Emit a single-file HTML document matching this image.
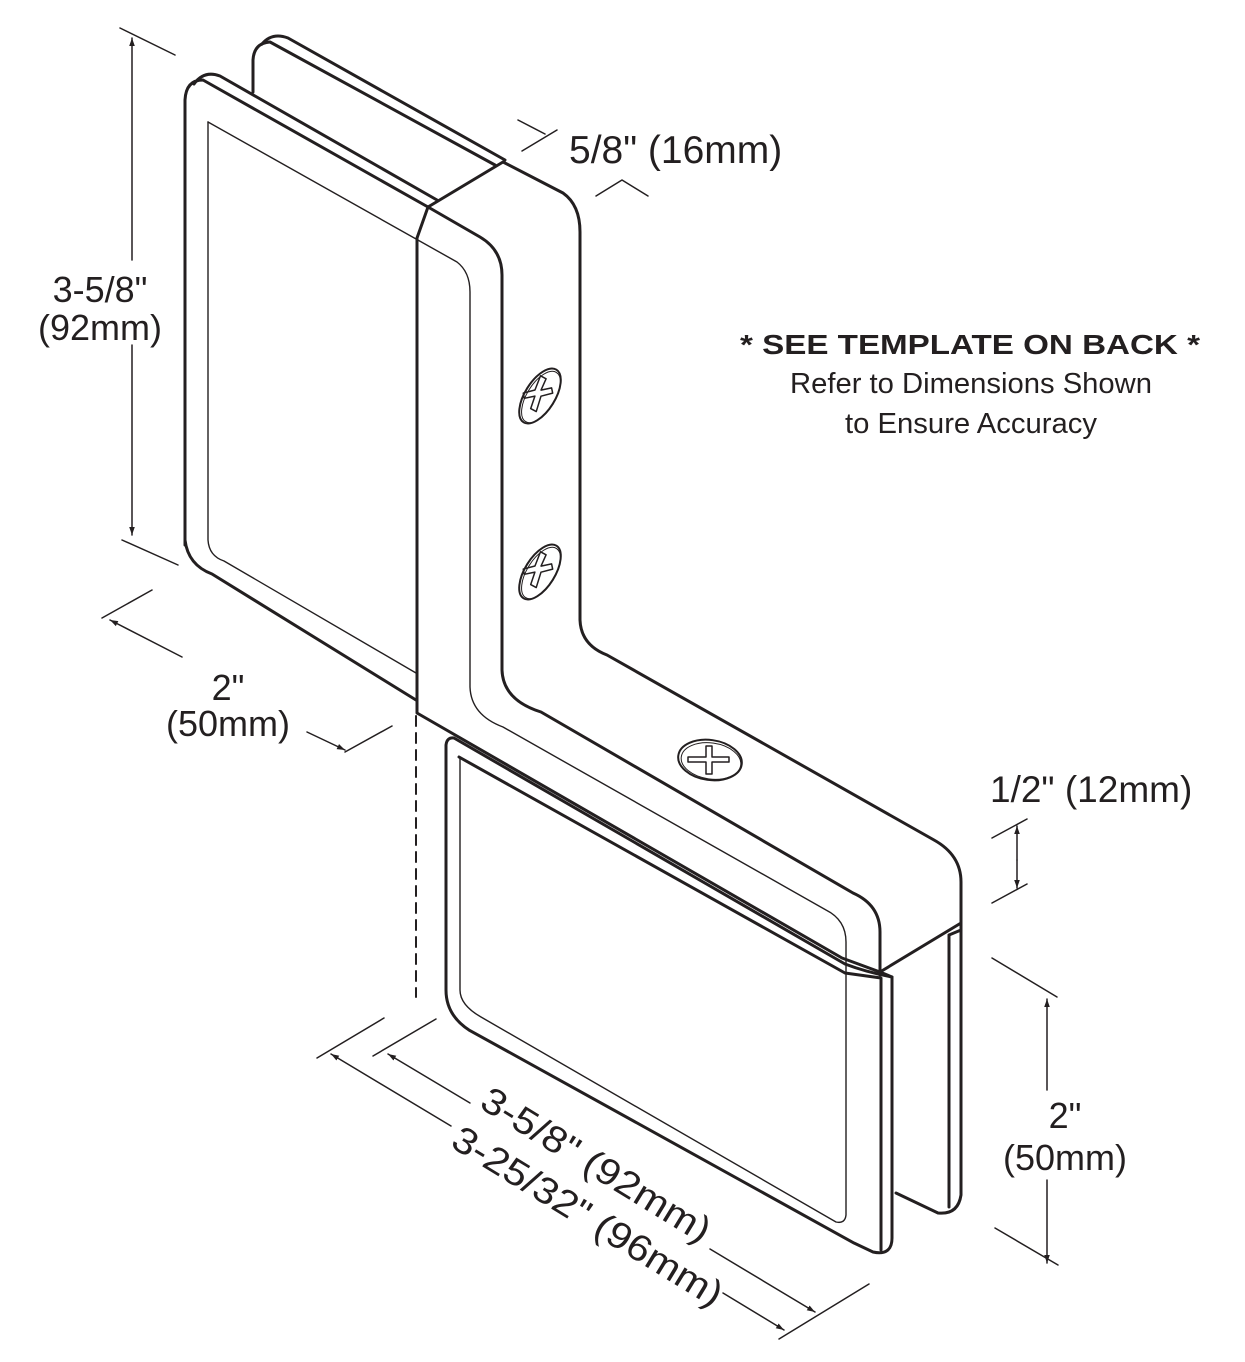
<!DOCTYPE html>
<html><head><meta charset="utf-8"><style>
html,body{margin:0;padding:0;background:#fff;}
svg{display:block;}
text{font-family:"Liberation Sans",sans-serif;fill:#231f20;}
</style></head><body>
<svg width="1245" height="1362" viewBox="0 0 1245 1362" xmlns="http://www.w3.org/2000/svg">
<defs>
<marker id="ar" viewBox="0 0 10 10" refX="10" refY="5" markerWidth="8" markerHeight="8" orient="auto-start-reverse" markerUnits="userSpaceOnUse"><path d="M0,1.5 L10,5 L0,8.5 z" fill="#231f20"/></marker>
</defs>
<g fill="none" stroke="#231f20" stroke-linecap="round" stroke-linejoin="round">
<!-- back upper plate -->
<g stroke-width="3">
<path d="M253,92 V60 Q254,43 270,42 L495,165"/>
<path d="M262,44 Q272,32 288,38 L505,160"/>
<!-- front upper plate -->
<path d="M185,545 V100 Q186,80 203,80 L428,207"/>
<path d="M194,84 Q204,70 220,76 L437,200"/>
<path d="M185,540 Q188,565 212,574 L416,700"/>
<!-- bar -->
<path d="M428,207 L503,162 L563,193 Q580,205 580,232 V620 Q581,645 607,655 L934,840 Q961,855 961,882 V923 L880,972"/>
<path d="M428,207 L417,238 V713 L842,958 L880,972"/>
<path d="M428,207 L480,237 Q502,250 502,275 V670 Q503,700 541,712 L853,893 Q880,905 880,932 V975"/>
<!-- lower front plate -->
<path d="M446,990 V745 Q447,737 454,738 L845,964 Q866,972 892,977 V1238 Q892,1256 873,1252 L854,1243 L469,1030 Q446,1015 446,990"/>
<path d="M459,757 L845,973 L881,978 V1250"/>
<path d="M880,972 L892,977"/>
<!-- back lower plate -->
<path d="M961,923 V1195 Q958,1215 938,1213 L896,1193"/>
<path d="M949,935 L961,930 M949,935 V1207"/>
</g>
<g stroke-width="1.4">
<path d="M208,122 L457,262 Q470,272 470,292 V687 Q471,715 503,727 L826,910 Q846,920 846,942 V1215 Q845,1224 836,1222 L481,1017 Q460,1005 460,990 V757"/>
<path d="M208,122 V540 Q209,556 224,561 L416,673"/>
</g>
<path d="M416,716 V997" stroke-width="2" stroke-dasharray="10,7"/>
<!-- screws -->
<g stroke-width="2">
<ellipse cx="540" cy="396" rx="15" ry="31" transform="rotate(32 540 396)"/>
<ellipse cx="541" cy="397" rx="14" ry="29" stroke-width="1" transform="rotate(32 541 397)"/>
<ellipse cx="540" cy="572" rx="15" ry="31" transform="rotate(32 540 572)"/>
<ellipse cx="541" cy="573" rx="14" ry="29" stroke-width="1" transform="rotate(32 541 573)"/>
<ellipse cx="710" cy="760" rx="32" ry="20" transform="rotate(8 710 760)"/>
<ellipse cx="711" cy="761" rx="30" ry="18" stroke-width="1" transform="rotate(8 711 761)"/>
</g>
<g stroke-width="1.5">
<path d="M540,396 m-3,-20 l6,2 l-3,12 l10,-4 l2,5 l-11,5 l-2,16 l-6,-2 l2,-13 l-10,4 l-2,-5 l11,-5 z" transform="rotate(10 540 396)"/>
<path d="M540,572 m-3,-20 l6,2 l-3,12 l10,-4 l2,5 l-11,5 l-2,16 l-6,-2 l2,-13 l-10,4 l-2,-5 l11,-5 z" transform="rotate(10 540 572)"/>
<path d="M706,746 h6 v11 h17 v5 h-17 v12 h-6 v-12 h-18 v-5 h18 z"/>
</g>
<!-- dimension lines -->
<g stroke-width="1.5">
<path d="M120,28 L175,55 M122,540 L178,565"/>
<path d="M132,260 V38" marker-end="url(#ar)"/>
<path d="M132,345 V535" marker-end="url(#ar)"/>
<path d="M102,618 L152,590 M345,752 L392,726"/>
<path d="M182,657 L110,620" marker-end="url(#ar)"/>
<path d="M307,732 L345,750" marker-end="url(#ar)"/>
<path d="M522,151 L557,130 M518,120 L545,134"/>
<path d="M596,196 L622,180 L648,196"/>
<path d="M992,838 L1027,819 M992,903 L1027,884"/>
<path d="M1017,860 V826" marker-end="url(#ar)"/>
<path d="M1017,860 V888" marker-end="url(#ar)"/>
<path d="M992,958 L1057,997 M995,1228 L1058,1265"/>
<path d="M1047,1090 V999" marker-end="url(#ar)"/>
<path d="M1047,1180 V1263" marker-end="url(#ar)"/>
<path d="M317,1058 L384,1018 M373,1056 L436,1019 M779,1339 L869,1284"/>
<path d="M451,1126 L331,1054" marker-end="url(#ar)"/>
<path d="M723,1293 L784,1330" marker-end="url(#ar)"/>
<path d="M470,1103 L388,1054" marker-end="url(#ar)"/>
<path d="M710,1249 L815,1312" marker-end="url(#ar)"/>
</g>
</g>
<!-- text -->
<text x="100" y="302" font-size="36" text-anchor="middle">3-5/8"</text>
<text x="100" y="340" font-size="36" text-anchor="middle">(92mm)</text>
<text x="228" y="700" font-size="36" text-anchor="middle">2"</text>
<text x="228" y="736" font-size="36" text-anchor="middle">(50mm)</text>
<text x="569" y="163" font-size="39">5/8" (16mm)</text>
<text x="990" y="802" font-size="37">1/2" (12mm)</text>
<text x="1065" y="1128" font-size="36" text-anchor="middle">2"</text>
<text x="1065" y="1170" font-size="36" text-anchor="middle">(50mm)</text>
<text x="740" y="354" font-size="28" font-weight="bold" textLength="460" lengthAdjust="spacingAndGlyphs">* SEE TEMPLATE ON BACK *</text>
<text x="790" y="393" font-size="29" textLength="362" lengthAdjust="spacingAndGlyphs">Refer to Dimensions Shown</text>
<text x="845" y="433" font-size="29" textLength="252" lengthAdjust="spacingAndGlyphs">to Ensure Accuracy</text>
<text font-size="37" transform="translate(478,1107) rotate(31.5)" textLength="262" lengthAdjust="spacingAndGlyphs">3-5/8" (92mm)</text>
<text font-size="37" transform="translate(449,1146) rotate(31.5)" textLength="310" lengthAdjust="spacingAndGlyphs">3-25/32" (96mm)</text>
</svg>
</body></html>
